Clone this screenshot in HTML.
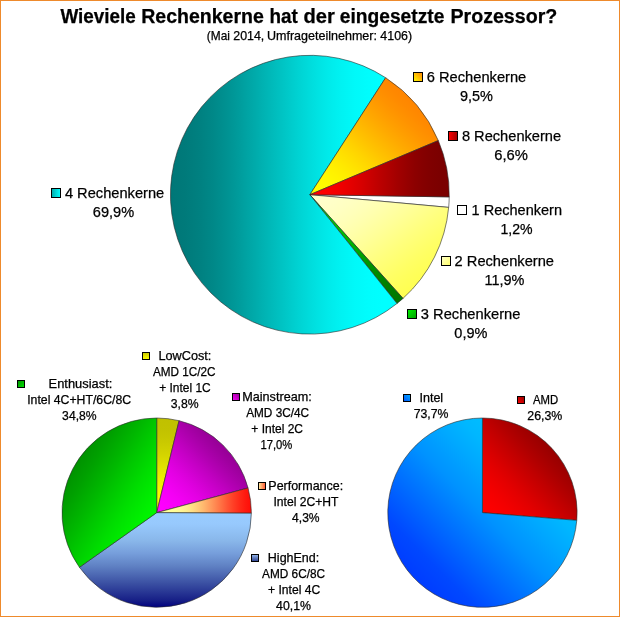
<!DOCTYPE html>
<html><head><meta charset="utf-8"><title>Wieviele Rechenkerne hat der eingesetzte Prozessor?</title>
<style>
html,body{margin:0;padding:0;background:#fff;}
svg{display:block;}
text{font-family:"Liberation Sans",sans-serif;fill:#000;stroke:#000;stroke-width:0.25px;}
</style></head><body>
<svg width="620" height="617" viewBox="0 0 620 617">
<defs><linearGradient id="g4" x1="0" y1="0" x2="1" y2="0"><stop offset="0.0" stop-color="#007777"/><stop offset="0.0625" stop-color="#007a7a"/><stop offset="0.125" stop-color="#008080"/><stop offset="0.1875" stop-color="#008888"/><stop offset="0.25" stop-color="#009292"/><stop offset="0.3125" stop-color="#009e9e"/><stop offset="0.375" stop-color="#00abab"/><stop offset="0.4375" stop-color="#00b8b8"/><stop offset="0.5" stop-color="#00c5c5"/><stop offset="0.5625" stop-color="#00d2d2"/><stop offset="0.625" stop-color="#00dede"/><stop offset="0.6875" stop-color="#00e9e9"/><stop offset="0.75" stop-color="#00f2f2"/><stop offset="0.8125" stop-color="#00f9f9"/><stop offset="0.875" stop-color="#00fdfd"/><stop offset="0.9375" stop-color="#00ffff"/><stop offset="1.0" stop-color="#00ffff"/></linearGradient><linearGradient id="g6" x1="0" y1="1" x2="1" y2="0"><stop offset="0.0" stop-color="#ffff00"/><stop offset="0.0625" stop-color="#fffe00"/><stop offset="0.125" stop-color="#fff900"/><stop offset="0.1875" stop-color="#fff200"/><stop offset="0.25" stop-color="#ffe900"/><stop offset="0.3125" stop-color="#ffde00"/><stop offset="0.375" stop-color="#ffd200"/><stop offset="0.4375" stop-color="#ffc400"/><stop offset="0.5" stop-color="#ffb700"/><stop offset="0.5625" stop-color="#ffaa00"/><stop offset="0.625" stop-color="#ff9e00"/><stop offset="0.6875" stop-color="#ff9300"/><stop offset="0.75" stop-color="#ff8a00"/><stop offset="0.8125" stop-color="#ff8400"/><stop offset="0.875" stop-color="#ff8100"/><stop offset="0.9375" stop-color="#ff8000"/><stop offset="1.0" stop-color="#ff8000"/></linearGradient><linearGradient id="g8" x1="0" y1="0" x2="1" y2="0"><stop offset="0.0" stop-color="#ff0000"/><stop offset="0.0625" stop-color="#fe0000"/><stop offset="0.125" stop-color="#fa0000"/><stop offset="0.1875" stop-color="#f40000"/><stop offset="0.25" stop-color="#ec0000"/><stop offset="0.3125" stop-color="#e10000"/><stop offset="0.375" stop-color="#d60000"/><stop offset="0.4375" stop-color="#c90000"/><stop offset="0.5" stop-color="#bc0000"/><stop offset="0.5625" stop-color="#b00000"/><stop offset="0.625" stop-color="#a30000"/><stop offset="0.6875" stop-color="#980000"/><stop offset="0.75" stop-color="#8d0000"/><stop offset="0.8125" stop-color="#850000"/><stop offset="0.875" stop-color="#7f0000"/><stop offset="0.9375" stop-color="#7b0000"/><stop offset="1.0" stop-color="#7a0000"/></linearGradient><linearGradient id="g1" x1="0" y1="0" x2="1" y2="0"><stop offset="0" stop-color="#ffffff"/><stop offset="1" stop-color="#ffffff"/></linearGradient><linearGradient id="g2" x1="0" y1="0" x2="1" y2="1"><stop offset="0.0" stop-color="#ffffcc"/><stop offset="0.0625" stop-color="#ffffcb"/><stop offset="0.125" stop-color="#ffffc7"/><stop offset="0.1875" stop-color="#ffffc1"/><stop offset="0.25" stop-color="#ffffb9"/><stop offset="0.3125" stop-color="#ffffaf"/><stop offset="0.375" stop-color="#ffffa3"/><stop offset="0.4375" stop-color="#ffff97"/><stop offset="0.5" stop-color="#ffff8a"/><stop offset="0.5625" stop-color="#ffff7d"/><stop offset="0.625" stop-color="#ffff71"/><stop offset="0.6875" stop-color="#ffff65"/><stop offset="0.75" stop-color="#ffff5b"/><stop offset="0.8125" stop-color="#ffff53"/><stop offset="0.875" stop-color="#ffff4d"/><stop offset="0.9375" stop-color="#ffff49"/><stop offset="1.0" stop-color="#ffff48"/></linearGradient><linearGradient id="g3" x1="0" y1="0" x2="1" y2="1"><stop offset="0.0" stop-color="#00dc00"/><stop offset="0.0625" stop-color="#00db00"/><stop offset="0.125" stop-color="#00d800"/><stop offset="0.1875" stop-color="#00d400"/><stop offset="0.25" stop-color="#00cd00"/><stop offset="0.3125" stop-color="#00c600"/><stop offset="0.375" stop-color="#00bd00"/><stop offset="0.4375" stop-color="#00b400"/><stop offset="0.5" stop-color="#00aa00"/><stop offset="0.5625" stop-color="#00a000"/><stop offset="0.625" stop-color="#009700"/><stop offset="0.6875" stop-color="#008e00"/><stop offset="0.75" stop-color="#008700"/><stop offset="0.8125" stop-color="#008000"/><stop offset="0.875" stop-color="#007c00"/><stop offset="0.9375" stop-color="#007900"/><stop offset="1.0" stop-color="#007800"/></linearGradient><linearGradient id="gE" x1="0" y1="0" x2="1" y2="1"><stop offset="0.0" stop-color="#008000"/><stop offset="0.0625" stop-color="#008200"/><stop offset="0.125" stop-color="#008700"/><stop offset="0.1875" stop-color="#008d00"/><stop offset="0.25" stop-color="#009600"/><stop offset="0.3125" stop-color="#00a000"/><stop offset="0.375" stop-color="#00ac00"/><stop offset="0.4375" stop-color="#00b800"/><stop offset="0.5" stop-color="#00c500"/><stop offset="0.5625" stop-color="#00d100"/><stop offset="0.625" stop-color="#00dd00"/><stop offset="0.6875" stop-color="#00e700"/><stop offset="0.75" stop-color="#00f000"/><stop offset="0.8125" stop-color="#00f700"/><stop offset="0.875" stop-color="#00fc00"/><stop offset="0.9375" stop-color="#00ff00"/><stop offset="1.0" stop-color="#00ff00"/></linearGradient><linearGradient id="gL" x1="0" y1="0" x2="0" y2="1"><stop offset="0.0" stop-color="#c0c000"/><stop offset="0.0625" stop-color="#c1c100"/><stop offset="0.125" stop-color="#c2c200"/><stop offset="0.1875" stop-color="#c5c500"/><stop offset="0.25" stop-color="#c9c900"/><stop offset="0.3125" stop-color="#cece00"/><stop offset="0.375" stop-color="#d3d300"/><stop offset="0.4375" stop-color="#d9d900"/><stop offset="0.5" stop-color="#e0e000"/><stop offset="0.5625" stop-color="#e6e600"/><stop offset="0.625" stop-color="#ecec00"/><stop offset="0.6875" stop-color="#f1f100"/><stop offset="0.75" stop-color="#f6f600"/><stop offset="0.8125" stop-color="#fafa00"/><stop offset="0.875" stop-color="#fdfd00"/><stop offset="0.9375" stop-color="#fefe00"/><stop offset="1.0" stop-color="#ffff00"/></linearGradient><linearGradient id="gM" x1="0" y1="1" x2="1" y2="0"><stop offset="0.0" stop-color="#ff00ff"/><stop offset="0.0625" stop-color="#fe00fe"/><stop offset="0.125" stop-color="#fa00fa"/><stop offset="0.1875" stop-color="#f400f4"/><stop offset="0.25" stop-color="#ec00ec"/><stop offset="0.3125" stop-color="#e300e3"/><stop offset="0.375" stop-color="#d800d8"/><stop offset="0.4375" stop-color="#cc00cc"/><stop offset="0.5" stop-color="#c000c0"/><stop offset="0.5625" stop-color="#b300b3"/><stop offset="0.625" stop-color="#a700a7"/><stop offset="0.6875" stop-color="#9c009c"/><stop offset="0.75" stop-color="#930093"/><stop offset="0.8125" stop-color="#8b008b"/><stop offset="0.875" stop-color="#850085"/><stop offset="0.9375" stop-color="#810081"/><stop offset="1.0" stop-color="#800080"/></linearGradient><linearGradient id="gP" x1="0" y1="0" x2="1" y2="0"><stop offset="0.0" stop-color="#ffff99"/><stop offset="0.0625" stop-color="#ffff99"/><stop offset="0.125" stop-color="#ffff99"/><stop offset="0.1875" stop-color="#fffe98"/><stop offset="0.25" stop-color="#fff794"/><stop offset="0.3125" stop-color="#ffed8e"/><stop offset="0.375" stop-color="#ffde85"/><stop offset="0.4375" stop-color="#ffcb7a"/><stop offset="0.5" stop-color="#ffb66d"/><stop offset="0.5625" stop-color="#ff9e5f"/><stop offset="0.625" stop-color="#ff8650"/><stop offset="0.6875" stop-color="#ff6d41"/><stop offset="0.75" stop-color="#ff5433"/><stop offset="0.8125" stop-color="#ff3e25"/><stop offset="0.875" stop-color="#ff2a19"/><stop offset="0.9375" stop-color="#ff190f"/><stop offset="1.0" stop-color="#ff0c07"/></linearGradient><linearGradient id="gH" x1="0" y1="0" x2="0" y2="1"><stop offset="0" stop-color="#99ccff"/><stop offset="0.12" stop-color="#97c9fd"/><stop offset="0.296" stop-color="#89b7ea"/><stop offset="0.43" stop-color="#769edb"/><stop offset="0.56" stop-color="#6082c4"/><stop offset="0.75" stop-color="#3a4fa2"/><stop offset="0.93" stop-color="#161e86"/><stop offset="1" stop-color="#000080"/></linearGradient><linearGradient id="gI" x1="1" y1="0" x2="0" y2="1"><stop offset="0" stop-color="#00ccff"/><stop offset="0.15" stop-color="#00c8ff"/><stop offset="0.317" stop-color="#00b6ff"/><stop offset="0.5" stop-color="#0092ff"/><stop offset="0.766" stop-color="#0048ff"/><stop offset="0.9" stop-color="#0036ff"/><stop offset="1" stop-color="#0033ff"/></linearGradient><linearGradient id="gA" x1="0" y1="1" x2="1" y2="0"><stop offset="0.0" stop-color="#ff0000"/><stop offset="0.0625" stop-color="#fe0000"/><stop offset="0.125" stop-color="#fa0000"/><stop offset="0.1875" stop-color="#f40000"/><stop offset="0.25" stop-color="#ec0000"/><stop offset="0.3125" stop-color="#e30000"/><stop offset="0.375" stop-color="#d80000"/><stop offset="0.4375" stop-color="#cc0000"/><stop offset="0.5" stop-color="#c00000"/><stop offset="0.5625" stop-color="#b30000"/><stop offset="0.625" stop-color="#a70000"/><stop offset="0.6875" stop-color="#9c0000"/><stop offset="0.75" stop-color="#930000"/><stop offset="0.8125" stop-color="#8b0000"/><stop offset="0.875" stop-color="#850000"/><stop offset="0.9375" stop-color="#810000"/><stop offset="1.0" stop-color="#800000"/></linearGradient><linearGradient id="k4" x1="0" y1="0" x2="1" y2="0"><stop offset="0" stop-color="#00a8a8"/><stop offset="1" stop-color="#00ffff"/></linearGradient><linearGradient id="k6" x1="0" y1="1" x2="1" y2="0"><stop offset="0" stop-color="#ffff00"/><stop offset="1" stop-color="#ff8000"/></linearGradient><linearGradient id="k8" x1="0" y1="0" x2="1" y2="0"><stop offset="0" stop-color="#ff0000"/><stop offset="1" stop-color="#a00000"/></linearGradient><linearGradient id="k2" x1="0" y1="0" x2="1" y2="1"><stop offset="0" stop-color="#ffffcc"/><stop offset="1" stop-color="#ffff66"/></linearGradient><linearGradient id="k3" x1="0" y1="0" x2="1" y2="1"><stop offset="0" stop-color="#00f000"/><stop offset="1" stop-color="#00a000"/></linearGradient><linearGradient id="kE" x1="0" y1="0" x2="1" y2="1"><stop offset="0" stop-color="#009000"/><stop offset="1" stop-color="#00e600"/></linearGradient><linearGradient id="kL" x1="0" y1="0" x2="0" y2="1"><stop offset="0" stop-color="#c8c800"/><stop offset="1" stop-color="#ffff00"/></linearGradient><linearGradient id="kM" x1="0" y1="1" x2="1" y2="0"><stop offset="0" stop-color="#ff00ff"/><stop offset="1" stop-color="#900090"/></linearGradient><linearGradient id="kP" x1="0" y1="0" x2="1" y2="0"><stop offset="0" stop-color="#fff0a0"/><stop offset="1" stop-color="#ff5030"/></linearGradient><linearGradient id="kH" x1="0" y1="0" x2="0" y2="1"><stop offset="0" stop-color="#99bbee"/><stop offset="1" stop-color="#283c8c"/></linearGradient><linearGradient id="kI" x1="1" y1="0" x2="0" y2="1"><stop offset="0" stop-color="#00b0ff"/><stop offset="1" stop-color="#0050ff"/></linearGradient><linearGradient id="kA" x1="0" y1="1" x2="1" y2="0"><stop offset="0" stop-color="#ff0000"/><stop offset="1" stop-color="#900000"/></linearGradient></defs>
<rect x="0" y="0" width="620" height="617" fill="#fff"/>
<path d="M309.85,194.70L449.23,196.89A139.40,139.40 0 0 1 448.67,207.38Z" fill="url(#g1)" stroke="#2a2a2a" stroke-width="0.6" stroke-linejoin="round"/>
<path d="M309.85,194.70L448.67,207.38A139.40,139.40 0 0 1 403.02,298.39Z" fill="url(#g2)" stroke="#2a2a2a" stroke-width="0.6" stroke-linejoin="round"/>
<path d="M309.85,194.70L403.02,298.39A139.40,139.40 0 0 1 397.01,303.49Z" fill="url(#g3)" stroke="#2a2a2a" stroke-width="0.6" stroke-linejoin="round"/>
<path d="M309.85,194.70L397.01,303.49A139.40,139.40 0 1 1 385.65,77.71Z" fill="url(#g4)" stroke="#2a2a2a" stroke-width="0.6" stroke-linejoin="round"/>
<path d="M309.85,194.70L385.65,77.71A139.40,139.40 0 0 1 438.30,140.55Z" fill="url(#g6)" stroke="#2a2a2a" stroke-width="0.6" stroke-linejoin="round"/>
<path d="M309.85,194.70L438.30,140.55A139.40,139.40 0 0 1 449.23,196.89Z" fill="url(#g8)" stroke="#2a2a2a" stroke-width="0.6" stroke-linejoin="round"/>
<path d="M156.70,512.65L156.70,418.00A94.65,94.65 0 0 1 179.08,420.69Z" fill="url(#gL)" stroke="#2a2a2a" stroke-width="0.6" stroke-linejoin="round"/>
<path d="M156.70,512.65L179.08,420.69A94.65,94.65 0 0 1 248.07,487.96Z" fill="url(#gM)" stroke="#2a2a2a" stroke-width="0.6" stroke-linejoin="round"/>
<path d="M156.70,512.65L248.07,487.96A94.65,94.65 0 0 1 251.35,513.24Z" fill="url(#gP)" stroke="#2a2a2a" stroke-width="0.6" stroke-linejoin="round"/>
<path d="M156.70,512.65L251.35,513.24A94.65,94.65 0 0 1 79.43,567.32Z" fill="url(#gH)" stroke="#2a2a2a" stroke-width="0.6" stroke-linejoin="round"/>
<path d="M156.70,512.65L79.43,567.32A94.65,94.65 0 0 1 156.70,418.00Z" fill="url(#gE)" stroke="#2a2a2a" stroke-width="0.6" stroke-linejoin="round"/>
<path d="M482.45,512.65L482.45,418.00A94.65,94.65 0 0 1 576.78,520.37Z" fill="url(#gA)" stroke="#2a2a2a" stroke-width="0.6" stroke-linejoin="round"/>
<path d="M482.45,512.65L576.78,520.37A94.65,94.65 0 1 1 482.45,418.00Z" fill="url(#gI)" stroke="#2a2a2a" stroke-width="0.6" stroke-linejoin="round"/>
<rect x="51.5" y="188.5" width="9" height="9" fill="url(#k4)" stroke="#000" stroke-width="1"/>
<rect x="413.5" y="72.5" width="9" height="9" fill="url(#k6)" stroke="#000" stroke-width="1"/>
<rect x="448.5" y="131.5" width="9" height="9" fill="url(#k8)" stroke="#000" stroke-width="1"/>
<rect x="457.5" y="205.5" width="9" height="9" fill="#fff" stroke="#000" stroke-width="1"/>
<rect x="441.5" y="256.5" width="9" height="9" fill="url(#k2)" stroke="#000" stroke-width="1"/>
<rect x="407.5" y="309.5" width="9" height="9" fill="url(#k3)" stroke="#000" stroke-width="1"/>
<rect x="17.5" y="380.5" width="7" height="7" fill="url(#kE)" stroke="#000" stroke-width="1"/>
<rect x="142.5" y="352.5" width="7" height="7" fill="url(#kL)" stroke="#000" stroke-width="1"/>
<rect x="232.5" y="393.5" width="7" height="7" fill="url(#kM)" stroke="#000" stroke-width="1"/>
<rect x="258.5" y="482.5" width="7" height="7" fill="url(#kP)" stroke="#000" stroke-width="1"/>
<rect x="251.5" y="554.5" width="7" height="7" fill="url(#kH)" stroke="#000" stroke-width="1"/>
<rect x="403.5" y="394.5" width="7" height="7" fill="url(#kI)" stroke="#000" stroke-width="1"/>
<rect x="517.5" y="396.5" width="7" height="7" fill="url(#kA)" stroke="#000" stroke-width="1"/>
<text x="64.91" y="198.00" textLength="99.32" lengthAdjust="spacingAndGlyphs" font-size="14.6">4 Rechenkerne</text>
<text x="92.77" y="216.80" textLength="41.36" lengthAdjust="spacingAndGlyphs" font-size="14.6">69,9%</text>
<text x="426.77" y="82.00" textLength="99.51" lengthAdjust="spacingAndGlyphs" font-size="14.6">6 Rechenkerne</text>
<text x="459.92" y="100.50" textLength="33.01" lengthAdjust="spacingAndGlyphs" font-size="14.6">9,5%</text>
<text x="461.92" y="141.00" textLength="99.21" lengthAdjust="spacingAndGlyphs" font-size="14.6">8 Rechenkerne</text>
<text x="494.27" y="159.50" textLength="33.66" lengthAdjust="spacingAndGlyphs" font-size="14.6">6,6%</text>
<text x="471.58" y="215.00" textLength="90.44" lengthAdjust="spacingAndGlyphs" font-size="14.6">1 Rechenkern</text>
<text x="500.48" y="233.90" textLength="32.15" lengthAdjust="spacingAndGlyphs" font-size="14.6">1,2%</text>
<text x="454.57" y="266.00" textLength="99.46" lengthAdjust="spacingAndGlyphs" font-size="14.6">2 Rechenkerne</text>
<text x="484.48" y="284.60" textLength="39.95" lengthAdjust="spacingAndGlyphs" font-size="14.6">11,9%</text>
<text x="420.86" y="319.00" textLength="99.47" lengthAdjust="spacingAndGlyphs" font-size="14.6">3 Rechenkerne</text>
<text x="454.36" y="337.50" textLength="33.06" lengthAdjust="spacingAndGlyphs" font-size="14.6">0,9%</text>
<text x="48.63" y="388.00" textLength="63.68" lengthAdjust="spacingAndGlyphs" font-size="12.1">Enthusiast:</text>
<text x="27.21" y="404.00" textLength="103.93" lengthAdjust="spacingAndGlyphs" font-size="12.1">Intel 4C+HT/6C/8C</text>
<text x="62.14" y="420.00" textLength="34.47" lengthAdjust="spacingAndGlyphs" font-size="12.1">34,8%</text>
<text x="158.43" y="360.00" textLength="52.93" lengthAdjust="spacingAndGlyphs" font-size="12.1">LowCost:</text>
<text x="153.00" y="376.00" textLength="62.59" lengthAdjust="spacingAndGlyphs" font-size="12.1">AMD 1C/2C</text>
<text x="159.22" y="392.00" textLength="51.47" lengthAdjust="spacingAndGlyphs" font-size="12.1">+ Intel 1C</text>
<text x="170.84" y="407.60" textLength="27.82" lengthAdjust="spacingAndGlyphs" font-size="12.1">3,8%</text>
<text x="242.23" y="401.00" textLength="69.53" lengthAdjust="spacingAndGlyphs" font-size="12.1">Mainstream:</text>
<text x="246.20" y="417.00" textLength="62.89" lengthAdjust="spacingAndGlyphs" font-size="12.1">AMD 3C/4C</text>
<text x="251.32" y="433.00" textLength="51.67" lengthAdjust="spacingAndGlyphs" font-size="12.1">+ Intel 2C</text>
<text x="260.45" y="449.00" textLength="31.90" lengthAdjust="spacingAndGlyphs" font-size="12.1">17,0%</text>
<text x="268.33" y="490.00" textLength="74.83" lengthAdjust="spacingAndGlyphs" font-size="12.1">Performance:</text>
<text x="273.41" y="506.00" textLength="65.04" lengthAdjust="spacingAndGlyphs" font-size="12.1">Intel 2C+HT</text>
<text x="292.06" y="522.00" textLength="27.59" lengthAdjust="spacingAndGlyphs" font-size="12.1">4,3%</text>
<text x="267.83" y="562.00" textLength="51.43" lengthAdjust="spacingAndGlyphs" font-size="12.1">HighEnd:</text>
<text x="262.00" y="577.70" textLength="63.09" lengthAdjust="spacingAndGlyphs" font-size="12.1">AMD 6C/8C</text>
<text x="268.02" y="593.50" textLength="52.17" lengthAdjust="spacingAndGlyphs" font-size="12.1">+ Intel 4C</text>
<text x="276.06" y="609.50" textLength="34.89" lengthAdjust="spacingAndGlyphs" font-size="12.1">40,1%</text>
<text x="419.51" y="402.00" textLength="23.64" lengthAdjust="spacingAndGlyphs" font-size="12.1">Intel</text>
<text x="413.69" y="417.70" textLength="34.76" lengthAdjust="spacingAndGlyphs" font-size="12.1">73,7%</text>
<text x="533.00" y="404.00" textLength="25.21" lengthAdjust="spacingAndGlyphs" font-size="12.1">AMD</text>
<text x="527.29" y="420.00" textLength="35.06" lengthAdjust="spacingAndGlyphs" font-size="12.1">26,3%</text>
<text font-size="19.4" font-weight="bold"><tspan x="60.40" y="22.80" textLength="75.41" lengthAdjust="spacingAndGlyphs">Wieviele</tspan> <tspan x="141.24" y="22.80" textLength="122.57" lengthAdjust="spacingAndGlyphs">Rechenkerne</tspan> <tspan x="269.44" y="22.80" textLength="28.32" lengthAdjust="spacingAndGlyphs">hat</tspan> <tspan x="303.42" y="22.80" textLength="31.35" lengthAdjust="spacingAndGlyphs">der</tspan> <tspan x="339.72" y="22.80" textLength="104.69" lengthAdjust="spacingAndGlyphs">eingesetzte</tspan> <tspan x="450.44" y="22.80" textLength="106.85" lengthAdjust="spacingAndGlyphs">Prozessor?</tspan></text>
<text font-size="12.4"><tspan x="206.86" y="39.70" textLength="23.11" lengthAdjust="spacingAndGlyphs">(Mai</tspan> <tspan x="233.28" y="39.70" textLength="31.01" lengthAdjust="spacingAndGlyphs">2014,</tspan> <tspan x="266.93" y="39.70" textLength="110.06" lengthAdjust="spacingAndGlyphs">Umfrageteilnehmer:</tspan> <tspan x="380.35" y="39.70" textLength="31.71" lengthAdjust="spacingAndGlyphs">4106)</tspan></text>
<rect x="0.5" y="0.5" width="619" height="616" fill="none" stroke="#ee8a2c" stroke-width="1"/>
</svg>
</body></html>
